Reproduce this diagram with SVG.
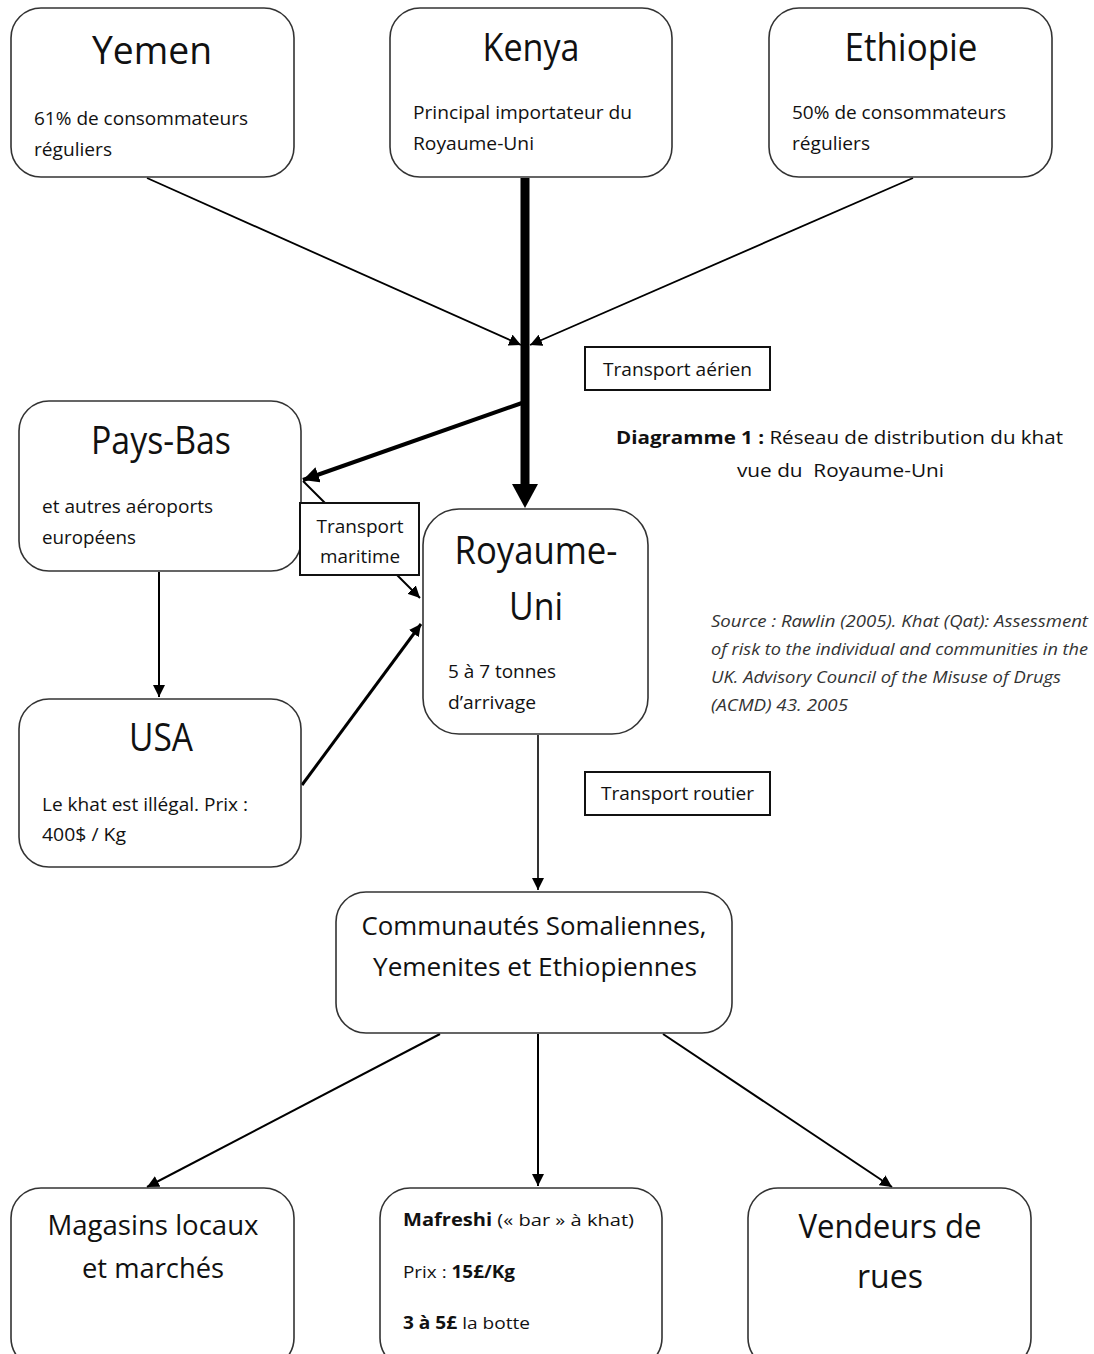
<svg xmlns="http://www.w3.org/2000/svg" width="1094" height="1354" viewBox="0 0 1094 1354">
<style>
text{font-family:"Open Sans","Noto Sans","DejaVu Sans",sans-serif;fill:#111}
.node rect{fill:#fff;stroke:#333;stroke-width:1.6}
.lbl rect{fill:#fff;stroke:#111;stroke-width:2}
.t{font-size:38px;text-anchor:middle}
.s{font-size:18px}
.src{font-size:15.5px;font-style:italic;fill:#333}
.c line{stroke:#000}
.b{font-weight:bold}
.pre{white-space:pre}
</style>
<defs>
<marker id="a" viewBox="0 0 10 10" refX="10" refY="5" markerWidth="12" markerHeight="12" markerUnits="userSpaceOnUse" orient="auto"><path d="M0,0 L10,5 L0,10 z" fill="#000"/></marker>
<marker id="a2" viewBox="0 0 10 10" refX="10" refY="5" markerWidth="16" markerHeight="16" markerUnits="userSpaceOnUse" orient="auto"><path d="M0,0 L10,5 L0,10 z" fill="#000"/></marker>
</defs>
<rect width="1094" height="1354" fill="#fff"/>

<g id="connectors" class="c">
<line x1="147" y1="178" x2="521" y2="345" stroke-width="1.8" marker-end="url(#a)"/>
<line x1="913" y1="178" x2="530" y2="345" stroke-width="1.8" marker-end="url(#a)"/>
<line x1="525" y1="178" x2="525" y2="486" stroke-width="9"/>
<polygon points="512,484 538,484 525,508" fill="#000"/>
<line x1="522" y1="403" x2="303" y2="480" stroke-width="4" marker-end="url(#a2)"/>
<line x1="303" y1="481" x2="420" y2="598" stroke-width="2" marker-end="url(#a)"/>
<line x1="302" y1="785" x2="421" y2="624" stroke-width="3" marker-end="url(#a)"/>
<line x1="159" y1="572" x2="159" y2="697" stroke-width="2" marker-end="url(#a)"/>
<line x1="538" y1="735" x2="538" y2="890" stroke-width="1.6" marker-end="url(#a)"/>
<line x1="440" y1="1034" x2="147" y2="1187" stroke-width="2" marker-end="url(#a)"/>
<line x1="538" y1="1034" x2="538" y2="1186" stroke-width="2" marker-end="url(#a)"/>
<line x1="663" y1="1034" x2="892" y2="1187" stroke-width="2" marker-end="url(#a)"/>
</g>

<g id="yemen" class="node">
<rect x="11" y="8" width="283" height="169" rx="30"/>
<text class="t" x="152" y="64" textLength="120" lengthAdjust="spacingAndGlyphs">Yemen</text>
<text class="s" x="34" y="125" textLength="214" lengthAdjust="spacingAndGlyphs">61% de consommateurs</text>
<text class="s" x="34" y="156" textLength="78" lengthAdjust="spacingAndGlyphs">réguliers</text>
</g>

<g id="kenya" class="node">
<rect x="390" y="8" width="282" height="169" rx="30"/>
<text class="t" x="531" y="61" textLength="97" lengthAdjust="spacingAndGlyphs">Kenya</text>
<text class="s" x="413" y="119" textLength="219" lengthAdjust="spacingAndGlyphs">Principal importateur du</text>
<text class="s" x="413" y="150" textLength="121" lengthAdjust="spacingAndGlyphs">Royaume-Uni</text>
</g>

<g id="ethiopie" class="node">
<rect x="769" y="8" width="283" height="169" rx="30"/>
<text class="t" x="911" y="61" textLength="133" lengthAdjust="spacingAndGlyphs">Ethiopie</text>
<text class="s" x="792" y="119" textLength="214" lengthAdjust="spacingAndGlyphs">50% de consommateurs</text>
<text class="s" x="792" y="150" textLength="78" lengthAdjust="spacingAndGlyphs">réguliers</text>
</g>

<g id="transport-aerien" class="lbl">
<rect x="585" y="347" width="185" height="43"/>
<text class="s" x="603" y="376" textLength="149" lengthAdjust="spacingAndGlyphs">Transport aérien</text>
</g>

<g id="titre">
<text class="s" x="616" y="444" textLength="447" lengthAdjust="spacingAndGlyphs"><tspan class="b">Diagramme 1 :</tspan> Réseau de distribution du khat</text>
<text class="s pre" x="737" y="477" textLength="207" lengthAdjust="spacingAndGlyphs">vue du  Royaume-Uni</text>
</g>

<g id="pays-bas" class="node">
<rect x="19" y="401" width="282" height="170" rx="30"/>
<text class="t" x="161" y="454" textLength="140" lengthAdjust="spacingAndGlyphs">Pays-Bas</text>
<text class="s" x="42" y="513" textLength="171" lengthAdjust="spacingAndGlyphs">et autres aéroports</text>
<text class="s" x="42" y="544" textLength="94" lengthAdjust="spacingAndGlyphs">européens</text>
</g>

<g id="transport-maritime" class="lbl">
<rect x="300" y="503" width="119" height="72"/>
<text class="s" x="360" y="533" text-anchor="middle" textLength="87" lengthAdjust="spacingAndGlyphs">Transport</text>
<text class="s" x="360" y="563" text-anchor="middle" textLength="80" lengthAdjust="spacingAndGlyphs">maritime</text>
</g>

<g id="royaume-uni" class="node">
<rect x="423" y="509" width="225" height="225" rx="36"/>
<text class="t" x="536" y="564" textLength="163" lengthAdjust="spacingAndGlyphs">Royaume-</text>
<text class="t" x="536" y="620" textLength="54" lengthAdjust="spacingAndGlyphs">Uni</text>
<text class="s" x="448" y="678" textLength="108" lengthAdjust="spacingAndGlyphs">5 à 7 tonnes</text>
<text class="s" x="448" y="709" textLength="88" lengthAdjust="spacingAndGlyphs">d’arrivage</text>
</g>

<g id="source">
<text class="src" x="711" y="627" textLength="377" lengthAdjust="spacingAndGlyphs">Source : Rawlin (2005). Khat (Qat): Assessment</text>
<text class="src" x="711" y="655" textLength="377" lengthAdjust="spacingAndGlyphs">of risk to the individual and communities in the</text>
<text class="src" x="711" y="683" textLength="350" lengthAdjust="spacingAndGlyphs">UK. Advisory Council of the Misuse of Drugs</text>
<text class="src" x="711" y="711" textLength="137" lengthAdjust="spacingAndGlyphs">(ACMD) 43. 2005</text>
</g>

<g id="usa" class="node">
<rect x="19" y="699" width="282" height="168" rx="30"/>
<text class="t" x="161" y="751" textLength="64" lengthAdjust="spacingAndGlyphs">USA</text>
<text class="s" x="42" y="811" textLength="206" lengthAdjust="spacingAndGlyphs">Le khat est illégal. Prix :</text>
<text class="s" x="42" y="841" textLength="84" lengthAdjust="spacingAndGlyphs">400$ / Kg</text>
</g>

<g id="transport-routier" class="lbl">
<rect x="585" y="772" width="185" height="43"/>
<text class="s" x="601" y="800" textLength="153" lengthAdjust="spacingAndGlyphs">Transport routier</text>
</g>

<g id="communautes" class="node">
<rect x="336" y="892" width="396" height="141" rx="30"/>
<text x="534" y="935" font-size="26" text-anchor="middle" textLength="345" lengthAdjust="spacingAndGlyphs">Communautés Somaliennes,</text>
<text x="535" y="976" font-size="26" text-anchor="middle" textLength="324" lengthAdjust="spacingAndGlyphs">Yemenites et Ethiopiennes</text>
</g>

<g id="magasins" class="node">
<rect x="11" y="1188" width="283" height="180" rx="30"/>
<text x="153" y="1235" font-size="28" text-anchor="middle" textLength="211" lengthAdjust="spacingAndGlyphs">Magasins locaux</text>
<text x="153" y="1278" font-size="28" text-anchor="middle" textLength="142" lengthAdjust="spacingAndGlyphs">et marchés</text>
</g>

<g id="mafreshi" class="node">
<rect x="380" y="1188" width="282" height="180" rx="30"/>
<text x="403" y="1226" font-size="17" textLength="231" lengthAdjust="spacingAndGlyphs"><tspan class="b">Mafreshi</tspan> (« bar » à khat)</text>
<text x="403" y="1278" font-size="17" textLength="112" lengthAdjust="spacingAndGlyphs">Prix : <tspan class="b">15£/Kg</tspan></text>
<text x="403" y="1329" font-size="17" textLength="127" lengthAdjust="spacingAndGlyphs"><tspan class="b">3 à 5£</tspan> la botte</text>
</g>

<g id="vendeurs" class="node">
<rect x="748" y="1188" width="283" height="180" rx="30"/>
<text x="890" y="1238" font-size="32" text-anchor="middle" textLength="183" lengthAdjust="spacingAndGlyphs">Vendeurs de</text>
<text x="890" y="1288" font-size="32" text-anchor="middle">rues</text>
</g>
</svg>
